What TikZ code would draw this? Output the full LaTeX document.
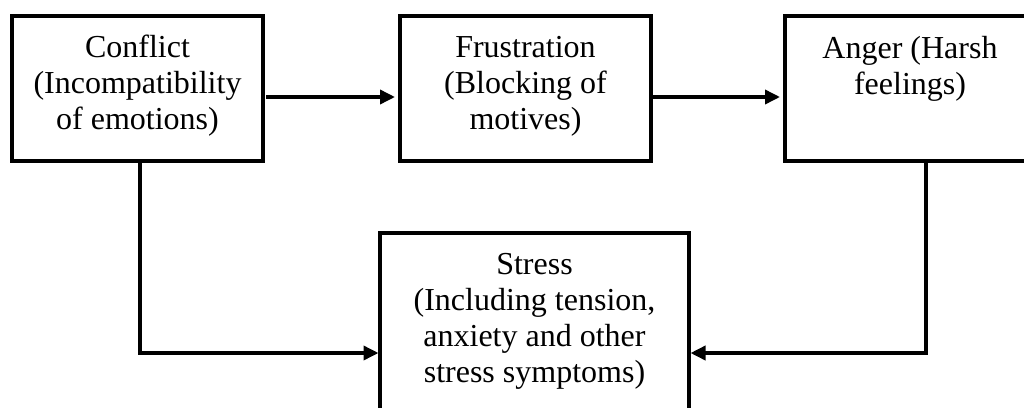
\documentclass[tikz,border=0pt]{standalone}
\usepackage{fontspec}
\setmainfont{Liberation Serif}
\usetikzlibrary{positioning,arrows.meta}

\begin{document}
\begin{tikzpicture}[
    x=1pt, y=1pt,
    box/.style={rectangle, draw=black, line width=3.5pt, minimum height=145pt, inner sep=0pt, outer sep=0pt},
    label/.style={align=center, anchor=base, inner sep=0pt, font=\fontsize{32}{36}\selectfont},
    arrow/.style={-{Triangle[length=15pt, width=14pt]}, line width=3.5pt}
]
\useasboundingbox (0,0) rectangle (1024,-407);

% Main boxes
\node[box, minimum width=251pt] (conflict) at (137.5,-88.5) {};
\node[box, minimum width=251pt, right=137pt of conflict] (frustration) {};
\node[box, minimum width=250pt, right=134pt of frustration] (anger) {};
\node[box, minimum width=309pt, minimum height=179pt] (stress) at (534.5,-322.5) {};

% Box texts (anchored on the last line)
\node[label] (conflicttxt) at ([yshift=-113pt]conflict.north) {Conflict\\(Incompatibility\\of emotions)};
\node[label] (frustrationtxt) at ([yshift=-113pt]frustration.north) {Frustration\\(Blocking of\\motives)};
\node[label] (angertxt) at ([yshift=-78pt]anger.north) {Anger (Harsh\\feelings)};
\node[label] (stresstxt) at ([yshift=-149pt]stress.north) {Stress\\(Including tension,\\anxiety and other\\stress symptoms)};

% Flow arrows
\draw[arrow, shorten <=3pt, shorten >=5pt] ([yshift=-8.5pt]conflict.east) -- ([yshift=-8.5pt]frustration.west);
\draw[arrow, shorten <=1pt, shorten >=5pt] ([yshift=-8.5pt]frustration.east) -- ([yshift=-8.5pt]anger.west);

% Paths to stress
\draw[arrow, shorten >=1.5pt] ([xshift=2.5pt]conflict.south) |- ([yshift=-30.5pt]stress.west);
\draw[arrow, shorten >=1.5pt] ([xshift=16pt]anger.south) |- ([yshift=-30.5pt]stress.east);

\end{tikzpicture}
\end{document}
